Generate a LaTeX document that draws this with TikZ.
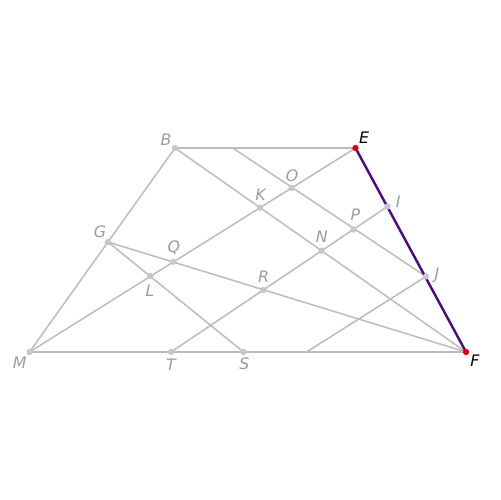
\documentclass[tikz,border=0pt]{standalone}
\usepackage{fontspec}
\setmainfont{DejaVu Sans}
\usetikzlibrary{positioning}
\definecolor{Edge}{HTML}{BBBBC1}
\definecolor{Dot}{HTML}{C6C6CC}
\definecolor{Muted}{HTML}{9C9CA3}
\definecolor{Hot}{HTML}{E2000E}
\definecolor{Side}{HTML}{4A0C7E}
\tikzset{seg/.style={draw=Edge,line width=.85pt},side/.style={draw=Side,line width=1.4pt},lab/.style={inner sep=0pt,font=\fontsize{9}{11}\selectfont\itshape,text=Muted},hotlab/.style={lab,text=black}}

\begin{document}
\begin{tikzpicture}[x=0.02cm,y=-0.02cm]
\useasboundingbox (0,0) rectangle (500,500);
% points
\coordinate (M) at (29.5,352);\coordinate (F) at (466,352);
\coordinate (B) at (175,148);\coordinate (E) at (355.5,148);
\coordinate (G) at (108,242);\coordinate (T) at (171,352);\coordinate (S) at (243.5,352);
\coordinate (O) at (291.5,188);\coordinate (K) at (260,207.7);
\coordinate (P) at (353.5,229.5);\coordinate (N) at (321.5,250.7);
\coordinate (Q) at (173.3,261.8);\coordinate (L) at (150.3,276);
\coordinate (R) at (263.5,290);\coordinate (I) at (387.5,206.5);\coordinate (J) at (426,276.5);
\coordinate (bTop) at (232.7,148);\coordinate (bBot) at (306.5,352);
% segments
\draw[seg] (M)--(B);\draw[seg] (B)--(E);\draw[seg] (M)--(F);
\draw[seg] (M)--(E);\draw[seg] (B)--(F);\draw[seg] (G)--(F);
\draw[seg] (G)--(S);\draw[seg] (T)--(I);
\draw[seg] (bTop)--(J);\draw[seg] (J)--(bBot);
\draw[side] (E)--(F);
% dots
\foreach \p in {M,B,G,T,S,O,K,P,N,Q,L,R,I,J} \fill[Dot] (\p) circle (1.8pt);
\foreach \p in {E,F} \fill[Hot] (\p) circle (1.8pt);
% labels
\node[lab] (lB) at (166,140) {B};
\node[hotlab] (lE) at (364,137.5) {E};
\node[lab] (lO) at (292,176) {O};
\node[lab] (lK) at (260.5,195) {K};
\node[lab] (lP) at (355.3,215) {P};
\node[lab] (lI) at (398.3,202) {I};
\node[lab] (lJ) at (437,275.7) {J};
\node[lab] (lN) at (321.7,237) {N};
\node[hotlab] (lF) at (475,361) {F};
\node[lab] (lG) at (100,231.3) {G};
\node[lab] (lQ) at (173.8,248) {Q};
\node[lab] (lL) at (150,291) {L};
\node[lab] (lM) at (19.7,362.5) {M};
\node[lab] (lT) at (171,364.7) {T};
\node[lab] (lR) at (263.7,276.3) {R};
\node[lab] (lS) at (244.3,364.2) {S};
\end{tikzpicture}
\end{document}
